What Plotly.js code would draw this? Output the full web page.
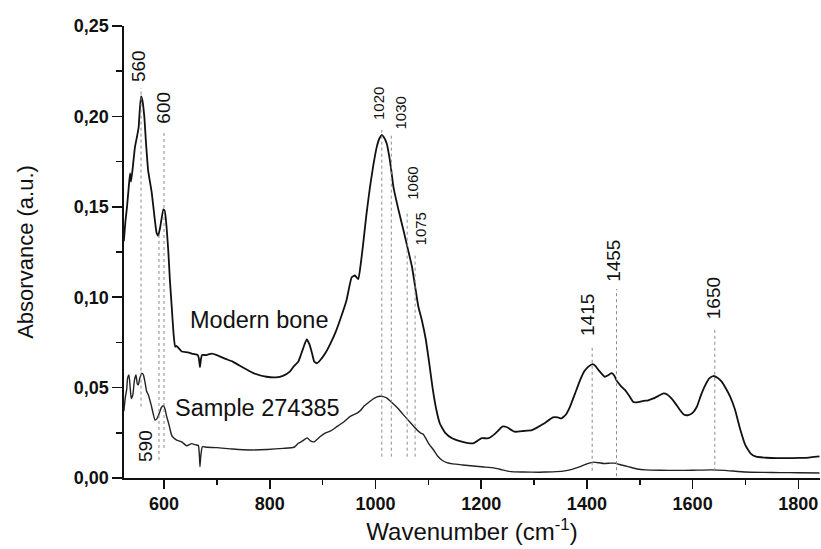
<!DOCTYPE html>
<html>
<head>
<meta charset="utf-8">
<script src="https://cdn.plot.ly/plotly-3.0.1.min.js"></script>
<style>html,body{margin:0;padding:0;background:#fff;}#chart{width:821px;height:549px;}</style>
</head>
<body>
<div id="chart"></div>
<script>
// Modern bone spectrum
const modernWn = [524,527,530,533,535.7,537.6,541,545,549,552,554,556.5,559,562.7,566,570,576.7,581,586,589,593,598.7,601,603,608,611,614.5,618,621,624,633.5,645,655,664,666,668,670,672,680,690,700,715,730,750,769,794,812,825,838,845,854,860,866,870,875,880,884,889,895,905,915,925,933,945,955,961,967.6,972,977,983,989.7,996,1002.4,1007,1011.8,1016,1021.3,1026,1030,1034,1043,1053,1061,1069,1075,1081,1088,1095,1102,1108,1115,1122,1132,1145,1165,1185,1195,1201,1214,1227,1240,1248,1263,1280,1296,1318,1336,1345,1352,1360,1368,1378,1387,1395,1403,1411,1416,1422,1434,1441,1447,1452,1456,1464,1472,1480,1488,1497,1507,1516,1526,1536,1545,1552,1560,1568,1576,1584,1592,1600,1608,1616,1624,1632,1639,1647,1655,1663,1671,1680,1690,1700,1710,1720,1740,1760,1780,1800,1820,1835,1840];
const modernAbs = [0.131,0.142,0.150,0.160,0.1685,0.164,0.172,0.183,0.189,0.194,0.203,0.211,0.209,0.200,0.185,0.170,0.158,0.147,0.1355,0.134,0.139,0.1486,0.148,0.1445,0.126,0.110,0.095,0.080,0.0726,0.073,0.070,0.0695,0.0686,0.068,0.066,0.0612,0.066,0.068,0.068,0.0688,0.068,0.066,0.0644,0.061,0.058,0.056,0.0557,0.0565,0.0588,0.0616,0.0643,0.069,0.074,0.0767,0.074,0.069,0.0645,0.0634,0.065,0.069,0.0745,0.081,0.0874,0.098,0.111,0.112,0.110,0.118,0.130,0.146,0.161,0.173,0.183,0.1875,0.1897,0.1885,0.185,0.178,0.170,0.161,0.149,0.137,0.127,0.117,0.106,0.095,0.087,0.077,0.063,0.050,0.038,0.030,0.025,0.022,0.020,0.0192,0.021,0.022,0.022,0.0247,0.0284,0.0282,0.0256,0.026,0.0265,0.030,0.0335,0.0335,0.033,0.035,0.0394,0.047,0.054,0.059,0.0616,0.063,0.062,0.0597,0.056,0.057,0.058,0.0565,0.054,0.051,0.0487,0.0455,0.042,0.042,0.0426,0.043,0.044,0.0455,0.0468,0.0462,0.044,0.041,0.0376,0.035,0.0348,0.036,0.0394,0.046,0.0514,0.0552,0.0564,0.0555,0.0533,0.0495,0.045,0.038,0.027,0.018,0.0135,0.0118,0.0112,0.011,0.011,0.0111,0.0113,0.0118,0.012];

// Sample 274385 spectrum
const sampleWn = [524,527,529.4,531,533.8,536,538,541,544,547,549.5,551.4,554,557.8,561,564,567,570.3,576,583,587,591,595,598.7,602,605,608,611,614,618,624,633.5,643,652,660,665,667,668,669.5,672.5,681,700,730,763,795,826,846,854,862,871,877,884,895,904,915,927,940,953,966,972,979,988,995.6,1002,1008.6,1015,1021.7,1031,1041,1051,1061,1071,1080,1085,1090,1095,1102,1110,1118,1126,1135,1146,1165,1185,1205,1224,1240,1256,1280,1309,1335,1355,1372,1387,1400,1413,1423,1432,1445,1452,1465,1478,1495,1511,1540,1570,1600,1635,1660,1700,1735,1765,1800,1840];
const sampleAbs = [0.037,0.045,0.049,0.055,0.057,0.050,0.044,0.046,0.054,0.057,0.052,0.0515,0.055,0.058,0.057,0.053,0.048,0.046,0.040,0.032,0.033,0.0358,0.039,0.040,0.038,0.034,0.031,0.0275,0.024,0.0222,0.021,0.020,0.0178,0.019,0.0183,0.018,0.012,0.0063,0.012,0.0173,0.017,0.0168,0.016,0.0155,0.0158,0.0164,0.017,0.0192,0.0205,0.0222,0.0205,0.020,0.0228,0.0247,0.026,0.0284,0.031,0.0342,0.036,0.0375,0.0399,0.042,0.0437,0.0447,0.0452,0.045,0.0442,0.0418,0.039,0.0356,0.0323,0.029,0.0262,0.025,0.0243,0.022,0.0185,0.0155,0.012,0.0098,0.0085,0.0078,0.0072,0.0066,0.0061,0.0056,0.0045,0.0035,0.0033,0.0032,0.0034,0.0038,0.0048,0.0063,0.0078,0.0088,0.0084,0.008,0.0082,0.0082,0.0072,0.0063,0.005,0.0045,0.0043,0.0042,0.0043,0.0045,0.0042,0.0033,0.0031,0.003,0.0029,0.0028];

// Band marker lines (dotted)
const bandX      = [556.5, 600, 590.5, 1012, 1030, 1060, 1075, 1410, 1456, 1642];
const bandYLow   = [0.0395, 0.0166, 0.010, 0.0118, 0.0118, 0.0118, 0.0118, 0.004, 0.001, 0.004];
const bandYHigh  = [0.2157, 0.192, 0.1355, 0.1925, 0.190, 0.148, 0.124, 0.0726, 0.1045, 0.082];

// Band labels
const bandLabels  = ['560', '600', '590', '1020', '1030', '1060', '1075', '1415', '1455', '1650'];
const bandLabelX  = [551.4, 598.7, 564, 1005.4, 1047.8, 1070, 1086, 1401.5, 1449, 1641];
const bandLabelY  = [0.228, 0.205, 0.0177, 0.207, 0.202, 0.163, 0.138, 0.090, 0.120, 0.0996];
const bandLabelSz = [19, 19, 19, 15, 15, 15, 15, 19, 19, 19];

// Series labels
const seriesNames = ['Modern bone', 'Sample 274385'];
const seriesLabelX = [645.4, 617.6];
const seriesLabelY = [0.0874, 0.0385];

const FONT = 'Arial, "Liberation Sans", Helvetica, sans-serif';

const traces = [
  {x: modernWn, y: modernAbs, type: 'scatter', mode: 'lines', name: seriesNames[0],
   line: {color: '#111', width: 1.8, shape: 'spline', smoothing: 0.4}},
  {x: sampleWn, y: sampleAbs, type: 'scatter', mode: 'lines', name: seriesNames[1],
   line: {color: '#222', width: 1.4, shape: 'spline', smoothing: 0.4}}
];

const shapes = bandX.map((x, i) => ({
  type: 'line', xref: 'x', yref: 'y', x0: x, x1: x, y0: bandYLow[i], y1: bandYHigh[i],
  line: {color: '#8a8a8a', width: 1, dash: 'dot'}
}));

const annotations = bandLabels.map((t, i) => ({
  x: bandLabelX[i], y: bandLabelY[i], xref: 'x', yref: 'y', text: t, showarrow: false,
  textangle: -90, xanchor: 'center', yanchor: 'middle',
  font: {family: FONT, size: bandLabelSz[i], color: '#111'}
})).concat(seriesNames.map((t, i) => ({
  x: seriesLabelX[i], y: seriesLabelY[i], xref: 'x', yref: 'y', text: t, showarrow: false,
  xanchor: 'left', yanchor: 'middle',
  font: {family: FONT, size: 23.5, color: '#111'}
})));

const layout = {
  width: 821, height: 549,
  margin: {l: 124, r: 1, t: 26, b: 71, pad: 0},
  paper_bgcolor: '#fff', plot_bgcolor: '#fff',
  separators: ',.',
  showlegend: false,
  font: {family: FONT, color: '#111'},
  xaxis: {
    range: [524.3, 1841], showgrid: false, zeroline: false,
    showline: true, linecolor: '#111', linewidth: 1.6,
    ticks: 'outside', ticklen: 9, tickwidth: 1.6, tickcolor: '#111',
    tick0: 600, dtick: 200,
    minor: {ticks: 'outside', ticklen: 5, tickwidth: 1.6, tickcolor: '#111', dtick: 100, tick0: 600, showgrid: false},
    tickfont: {family: FONT, size: 18, color: '#111', weight: 'bold'},
    title: {text: 'Wavenumber (cm<sup>-1</sup>)', font: {family: FONT, size: 24, color: '#111'}, standoff: 10}
  },
  yaxis: {
    range: [0, 0.25], showgrid: false, zeroline: false,
    showline: true, linecolor: '#111', linewidth: 1.6,
    ticks: 'outside', ticklen: 10, tickwidth: 1.6, tickcolor: '#111',
    tick0: 0, dtick: 0.05, tickformat: '.2f',
    minor: {ticks: 'outside', ticklen: 6, tickwidth: 1.6, tickcolor: '#111', dtick: 0.025, showgrid: false},
    tickfont: {family: FONT, size: 18, color: '#111', weight: 'bold'},
    title: {text: 'Absorvance (a.u.)', font: {family: FONT, size: 22, color: '#111'}, standoff: 34}
  },
  shapes: shapes,
  annotations: annotations
};

Plotly.newPlot('chart', traces, layout, {displayModeBar: false, staticPlot: true});
</script>
</body>
</html>
